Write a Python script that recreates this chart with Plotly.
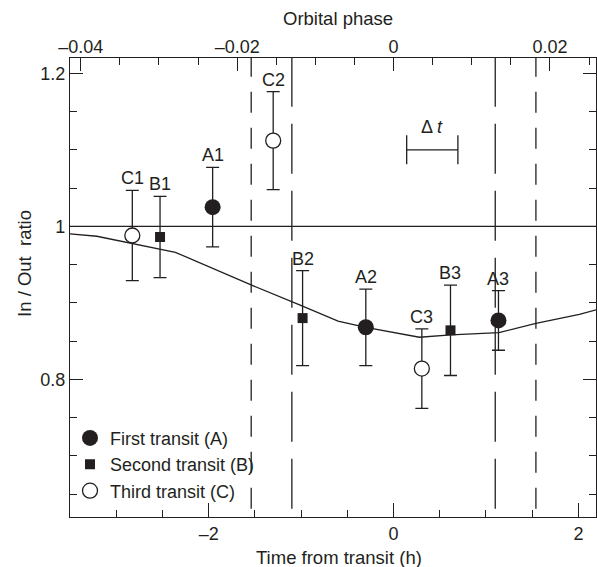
import plotly.graph_objects as go

# ---------------- data ----------------
labels_A = ["A1", "A2", "A3"]
t_A = [-1.957, -0.300, 1.135]
r_A = [1.025, 0.868, 0.877]
e_A = [0.052, 0.050, 0.039]

labels_B = ["B1", "B2", "B3"]
t_B = [-2.526, -0.984, 0.616]
r_B = [0.986, 0.880, 0.864]
e_B = [0.053, 0.062, 0.059]

labels_C = ["C1", "C2", "C3"]
t_C = [-2.826, -1.302, 0.306]
r_C = [0.988, 1.112, 0.814]
e_C = [0.059, 0.064, 0.052]

model_t = [-3.50, -3.21, -2.36, -1.535, -1.01, -0.60, -0.30, 0.28, 0.62, 1.14, 1.54, 2.01, 2.20]
model_r = [0.990, 0.987, 0.966, 0.923, 0.897, 0.876, 0.868, 0.855, 0.858, 0.861, 0.873, 0.885, 0.891]

first_contact = [-1.54, 1.54]    # dashed lines
second_contact = [-1.10, 1.10]   # long-dashed lines
reference_ratio = 1.0

dt_center, dt_half, dt_level = 0.419, 0.277, 1.100

period_h = 84.59
x_range = [-3.5, 2.19]
y_range = [0.62, 1.22]

x_tickvals = [-2, 0, 2]
x_ticktext = ["\u20132", "0", "2"]
phase_tickvals = [-0.04, -0.02, 0, 0.02]
phase_ticktext = ["\u20130.04", "\u20130.02", "0", "0.02"]
y_tickvals = [0.8, 1.0, 1.2]
y_ticktext = ["0.8", "1", "1.2"]

# ---------------- style ----------------
INK = "#231f20"
FONT = "Arial, Liberation Sans, Helvetica, sans-serif"
FS = 18
FT = 18.5
LW = 1.3

fig = go.Figure()

# model curve
fig.add_trace(go.Scatter(x=model_t, y=model_r, mode="lines",
                         line=dict(color=INK, width=LW), showlegend=False,
                         hoverinfo="skip"))
# same curve in orbital-phase units (invisible) so the top axis is drawn
fig.add_trace(go.Scatter(x=[t / period_h for t in model_t], y=model_r, mode="lines",
                         xaxis="x2", line=dict(color="rgba(0,0,0,0)", width=0),
                         showlegend=False, hoverinfo="skip"))

series = [
    ("First transit (A)", t_A, r_A, e_A, labels_A, dict(symbol="circle", size=16, color=INK,
                                                          line=dict(width=0))),
    ("Second transit (B)", t_B, r_B, e_B, labels_B, dict(symbol="square", size=10, color=INK,
                                                           line=dict(width=0))),
    ("Third transit (C)", t_C, r_C, e_C, labels_C, dict(symbol="circle", size=15, color="white",
                                                          line=dict(width=LW, color=INK))),
]

for name, tx, ry, ey, labs, mk in series:
    fig.add_trace(go.Scatter(
        x=tx, y=ry, mode="markers", name=name, marker=mk,
        error_y=dict(type="data", array=ey, visible=True, color=INK,
                     thickness=LW, width=6.5),
    ))
    for xi, yi, ei, lab in zip(tx, ry, ey, labs):
        fig.add_annotation(x=xi, y=yi + ei, text=lab, showarrow=False,
                           xanchor="center", yanchor="bottom", yshift=0,
                           font=dict(family=FONT, size=FS, color=INK))

# delta t bar
fig.add_trace(go.Scatter(
    x=[dt_center], y=[dt_level], mode="markers",
    marker=dict(size=1, color="rgba(0,0,0,0)"),
    error_x=dict(type="data", array=[dt_half], visible=True, color=INK,
                 thickness=LW, width=14.5),
    showlegend=False, hoverinfo="skip"))
fig.add_annotation(x=dt_center, y=dt_level, text="\u0394 <i>t</i>", showarrow=False,
                   xanchor="center", yanchor="bottom", yshift=11,
                   font=dict(family=FONT, size=FS, color=INK))

# reference line and contact lines
fig.add_shape(type="line", xref="paper", x0=0, x1=1, yref="y",
              y0=reference_ratio, y1=reference_ratio,
              line=dict(color=INK, width=LW), layer="below")
for xc in first_contact:
    fig.add_shape(type="line", xref="x", x0=xc, x1=xc, yref="paper", y0=0.018, y1=1,
                  line=dict(color=INK, width=LW, dash="21px,15px"), layer="below")
for xc in second_contact:
    fig.add_shape(type="line", xref="x", x0=xc, x1=xc, yref="paper", y0=0.018, y1=1,
                  line=dict(color=INK, width=LW, dash="50px,17px"), layer="below")

tickfont = dict(family=FONT, size=FS, color=INK)

fig.update_layout(
    width=597, height=567,
    margin=dict(l=70, r=1, t=58, b=50),
    paper_bgcolor="white", plot_bgcolor="white",
    font=dict(family=FONT, size=FS, color=INK),
    showlegend=True,
    legend=dict(x=0.0, y=0.212, xanchor="left", yanchor="top",
                bgcolor="rgba(0,0,0,0)", font=dict(family=FONT, size=FS, color=INK),
                tracegroupgap=0),
    xaxis=dict(range=x_range, tickmode="array", tickvals=x_tickvals, ticktext=x_ticktext,
               ticks="inside", ticklen=14, tickwidth=LW, tickcolor=INK,
               minor=dict(tickmode="linear", tick0=0, dtick=0.5, ticks="inside",
                          ticklen=7, tickwidth=LW, tickcolor=INK, showgrid=False),
               showline=True, linecolor=INK, linewidth=LW, mirror=True,
               showgrid=False, zeroline=False, tickfont=tickfont),
    xaxis2=dict(overlaying="x", side="top", anchor="y",
                range=[x_range[0] / period_h, x_range[1] / period_h],
                tickmode="array", tickvals=phase_tickvals, ticktext=phase_ticktext,
                ticks="inside", ticklen=13, tickwidth=LW, tickcolor=INK,
                minor=dict(tickmode="linear", tick0=0, dtick=0.005, ticks="inside",
                           ticklen=7, tickwidth=LW, tickcolor=INK, showgrid=False),
                showline=False, showgrid=False, zeroline=False, tickfont=tickfont),
    yaxis=dict(range=y_range, tickmode="array", tickvals=y_tickvals, ticktext=y_ticktext,
               ticks="inside", ticklen=13, tickwidth=LW, tickcolor=INK,
               minor=dict(tickmode="linear", tick0=0, dtick=0.05, ticks="inside",
                          ticklen=7, tickwidth=LW, tickcolor=INK, showgrid=False),
               showline=True, linecolor=INK, linewidth=LW, mirror="ticks",
               showgrid=False, zeroline=False, tickfont=tickfont),
)

# axis titles
fig.add_annotation(xref="paper", yref="paper", x=0.512, y=-0.0886, text="Time from transit (h)",
                   showarrow=False, xanchor="center", yanchor="middle",
                   font=dict(family=FONT, size=FT, color=INK))
fig.add_annotation(xref="paper", yref="paper", x=0.510, y=1.086, text="Orbital phase",
                   showarrow=False, xanchor="center", yanchor="middle",
                   font=dict(family=FONT, size=FT, color=INK))
fig.add_annotation(xref="paper", yref="paper", x=-0.0854, y=0.5515,
                   text="In / Out\u00a0 ratio", textangle=-90,
                   showarrow=False, xanchor="center", yanchor="middle",
                   font=dict(family=FONT, size=FT, color=INK))

fig.write_html("out.html")
